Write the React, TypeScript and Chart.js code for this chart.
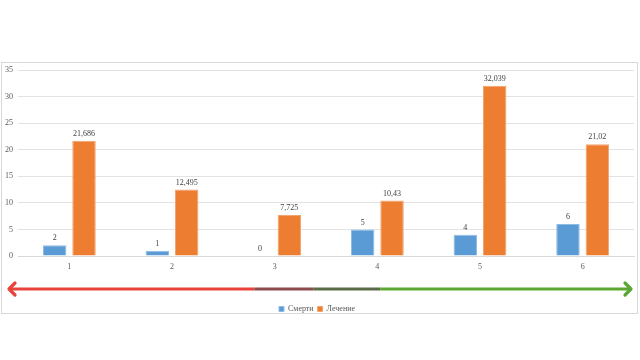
import React, { useEffect, useRef } from "react";
import { Chart, registerables } from "chart.js";

Chart.register(...registerables);

const categories = ["1", "2", "3", "4", "5", "6"];
const deaths = [2, 1, 0, 5, 4, 6];
const treatment = [21.686, 12.495, 7.725, 10.43, 32.039, 21.02];
const seriesNames = ["Смерти", "Лечение"];
const yTicks = [0, 5, 10, 15, 20, 25, 30, 35];

const FONT = "'Liberation Serif', 'Times New Roman', serif";

const fmt = (v: number) => String(v).replace(".", ",");

const framePlugin = {
  id: "frame",
  beforeDraw(chart: any) {
    const ctx = chart.ctx;
    ctx.save();
    ctx.fillStyle = "#ffffff";
    ctx.fillRect(0, 0, chart.width, chart.height);
    ctx.strokeStyle = "#d9d9d9";
    ctx.lineWidth = 1;
    ctx.strokeRect(1.5, 62.5, 636, 251);
    ctx.restore();
  },
};

const labelPlugin = {
  id: "valueLabels",
  afterDatasetsDraw(chart: any) {
    const ctx = chart.ctx;
    ctx.save();
    ctx.font = `8px ${FONT}`;
    ctx.fillStyle = "#404040";
    ctx.textAlign = "center";
    ctx.textBaseline = "bottom";
    chart.data.datasets.forEach((ds: any, i: number) => {
      const meta = chart.getDatasetMeta(i);
      meta.data.forEach((el: any, j: number) => {
        ctx.fillText(fmt(ds.data[j]), el.x, el.y - 3);
      });
    });
    ctx.restore();
  },
};

const arrowPlugin = {
  id: "arrow",
  afterDraw(chart: any) {
    const ctx = chart.ctx;
    const y = chart.chartArea.bottom + 33;
    const x0 = 8;
    const x1 = 632;
    const w = x1 - x0;
    const segs = [
      [0, 0.394, "#e8423b"],
      [0.394, 0.49, "#8a4b4a"],
      [0.49, 0.597, "#5b6b48"],
      [0.597, 1, "#5aa832"],
    ] as [number, number, string][];
    ctx.save();
    ctx.lineWidth = 3.2;
    ctx.lineCap = "butt";
    segs.forEach(([a, b, c]) => {
      ctx.strokeStyle = c;
      ctx.beginPath();
      ctx.moveTo(x0 + 2 + a * (w - 4), y);
      ctx.lineTo(x0 + 2 + b * (w - 4), y);
      ctx.stroke();
    });
    ctx.lineCap = "round";
    ctx.lineJoin = "round";
    ctx.strokeStyle = "#e8423b";
    ctx.beginPath();
    ctx.moveTo(x0 + 7, y - 6);
    ctx.lineTo(x0 + 1, y);
    ctx.lineTo(x0 + 7, y + 6);
    ctx.stroke();
    ctx.strokeStyle = "#5aa832";
    ctx.beginPath();
    ctx.moveTo(x1 - 7, y - 6);
    ctx.lineTo(x1 - 1, y);
    ctx.lineTo(x1 - 7, y + 6);
    ctx.stroke();
    ctx.restore();
  },
};

export default function App() {
  const ref = useRef<HTMLCanvasElement | null>(null);
  useEffect(() => {
    if (!ref.current) return;
    const chart = new Chart(ref.current, {
      type: "bar",
      data: {
        labels: categories,
        datasets: [
          {
            label: seriesNames[0],
            data: deaths,
            backgroundColor: "#5b9bd5",
            borderColor: "#8fbbe3",
            borderWidth: 1,
            categoryPercentage: 0.572,
            barPercentage: 0.8,
          },
          {
            label: seriesNames[1],
            data: treatment,
            backgroundColor: "#ed7d31",
            borderColor: "#f3a36e",
            borderWidth: 1,
            categoryPercentage: 0.572,
            barPercentage: 0.8,
          },
        ],
      },
      options: {
        responsive: false,
        animation: false,
        maintainAspectRatio: false,
        layout: { padding: { top: 70, left: 0, right: 6, bottom: 37 } },
        scales: {
          x: {
            grid: { display: false, drawTicks: false },
            border: { display: true, color: "#d9d9d9" },
            ticks: { padding: 6, color: "#595959", font: { family: FONT, size: 8 } },
            afterFit: (scale: any) => {
              scale.height = 45;
            },
          },
          y: {
            min: 0,
            max: 35,
            afterBuildTicks: (scale: any) => {
              scale.ticks = yTicks.map((v) => ({ value: v }));
            },
            grid: { color: "#e3e3e3", drawTicks: false },
            border: { display: false },
            ticks: { padding: 5, color: "#595959", font: { family: FONT, size: 8 } },
          },
        },
        plugins: {
          legend: {
            position: "bottom",
            labels: {
              boxWidth: 5,
              boxHeight: 5,
              padding: 4,
              color: "#595959",
              font: { family: FONT, size: 8 },
            },
          },
          tooltip: { enabled: false },
        },
      },
      plugins: [framePlugin, labelPlugin, arrowPlugin],
    });
    return () => chart.destroy();
  }, []);
  return (
    <div style={{ position: "fixed", left: 0, top: 0, width: 640, height: 360, background: "#fff" }}>
      <canvas ref={ref} width={640} height={360} style={{ width: 640, height: 360, display: "block" }} />
    </div>
  );
}
